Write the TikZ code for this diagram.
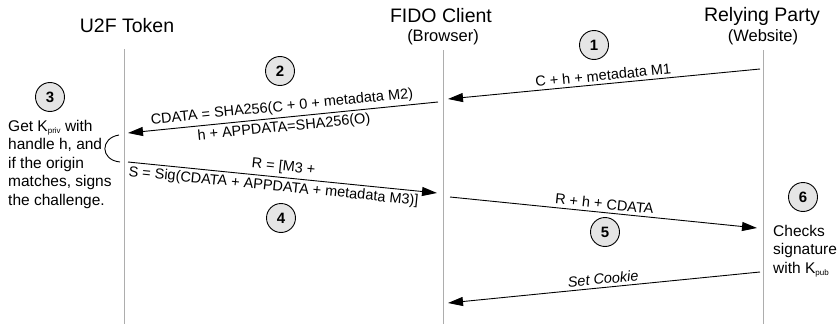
\documentclass[tikz,border=0pt]{standalone}
\usepackage{fontspec}
\setmainfont{Liberation Sans}
\usetikzlibrary{arrows.meta}

\newcommand{\lowsub}[1]{\raisebox{-2.5pt}{\fontsize{8}{9}\selectfont #1}}

\tikzset{
  lifeline/.style={draw=black!32, line width=1pt},
  msg/.style={draw, line width=0.9pt, -{Triangle[length=15pt,width=9pt]}},
  msglabel/.style={sloped, inner sep=3pt, font=\fontsize{14.5}{17}\selectfont},
  stepnum/.style={circle, draw, fill=black!10, line width=0.9pt, minimum size=29pt,
    inner sep=0pt, font=\fontsize{15}{18}\selectfont\bfseries},
  actor/.style={inner sep=0pt, font=\fontsize{19.5}{22}\selectfont},
  actorsub/.style={inner sep=0pt, font=\fontsize{16.5}{19}\selectfont},
  note/.style={align=left, inner sep=0pt, font=\fontsize{15.5}{18.5}\selectfont}
}

\begin{document}
\begin{tikzpicture}[x=1pt,y=1pt]
  \useasboundingbox (0,0) rectangle (839,-324);

  % actors
  \node[actor] (token) at (127,-26) {U2F Token};
  \node[actor] (client) at (441,-16) {FIDO Client};
  \node[actorsub] (browser) at (443,-37) {(Browser)};
  \node[actor] (party) at (762,-16) {Relying Party};
  \node[actorsub] (website) at (763,-37) {(Website)};

  % lifelines
  \coordinate (tokTop) at (124,-49);
  \coordinate (tokBot) at (124,-324);
  \coordinate (cliTop) at (443,-50);
  \coordinate (cliBot) at (443,-324);
  \coordinate (rpTop) at (763,-50);
  \coordinate (rpBot) at (763,-324);
  \draw[lifeline] (tokTop) -- (tokBot);
  \draw[lifeline] (cliTop) -- (cliBot);
  \draw[lifeline] (rpTop) -- (rpBot);

  % message end points
  \coordinate (rp1) at (760,-69);
  \coordinate (cli1) at (448,-99);
  \coordinate (cli2) at (438,-102);
  \coordinate (tok2) at (128,-133);
  \coordinate (tok4) at (128,-162);
  \coordinate (cli4) at (437,-193);
  \coordinate (cli5) at (450,-197);
  \coordinate (rp5) at (757,-228);
  \coordinate (rp6) at (760,-272);
  \coordinate (cli6) at (448,-303);

  % messages
  \draw[msg] (rp1) -- node[msglabel, above] {C + h + metadata M1} (cli1);
  \draw[msg] (cli2) -- node[msglabel, above] {CDATA = SHA256(C + 0 + metadata M2)}
    node[msglabel, below] {h + APPDATA=SHA256(O)} (tok2);
  \draw[msg] (tok4) -- node[msglabel, above] {R = [M3 +}
    node[msglabel, below, xshift=-8pt] {S = Sig(CDATA + APPDATA + metadata M3)]} (cli4);
  \draw[msg] (cli5) -- node[msglabel, above] {R + h + CDATA} (rp5);
  \draw[msg] (rp6) -- node[msglabel, above] {\itshape Set Cookie} (cli6);

  % local processing
  \draw[line width=0.9pt] (119,-135) .. controls (100,-138) and (100,-160) .. (120,-162);
  \node[note, anchor=north west] (signNote) at (8,-120)
    {Get K\lowsub{priv} with\\handle h, and\\if the origin\\matches, signs\\the challenge.};
  \node[note, anchor=north west] (checkNote) at (773,-225)
    {Checks\\signature\\with K\lowsub{pub}};

  % step numbers
  \node[stepnum] (s1) at (594,-45) {1};
  \node[stepnum] (s2) at (280,-71) {2};
  \node[stepnum] (s3) at (50,-97) {3};
  \node[stepnum] (s4) at (281,-218) {4};
  \node[stepnum] (s5) at (605,-232) {5};
  \node[stepnum] (s6) at (803,-197) {6};
\end{tikzpicture}
\end{document}
